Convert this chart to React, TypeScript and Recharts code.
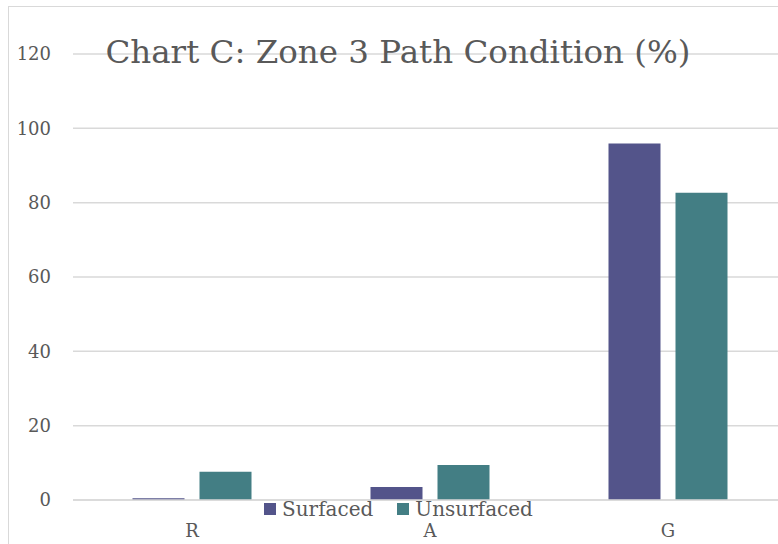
import React from "react";
import { BarChart, Bar, XAxis, YAxis, CartesianGrid } from "recharts";

const categories = ["R", "A", "G"];
const surfaced = [0.5, 3.5, 95.9];
const unsurfaced = [7.6, 9.4, 82.7];
const yTicks = [0, 20, 40, 60, 80, 100, 120];

const data = categories.map((c, i) => ({
    name: c,
    Surfaced: surfaced[i],
    Unsurfaced: unsurfaced[i],
}));

const font = "'DejaVu Serif', 'Liberation Serif', serif";
const textColor = "#595959";
const colors = { Surfaced: "#53548A", Unsurfaced: "#437E84" };

// legend sits over the axis labels like in the original, so it is drawn outside the chart layout
const LegendBox = () => (
    <div style={{ position: "absolute", top: 490, left: 255, display: "flex", fontFamily: font, fontSize: 20, color: textColor, lineHeight: "24px" }}>
        {(["Surfaced", "Unsurfaced"] as const).map((k) => (
            <div key={k} style={{ display: "flex", alignItems: "center", marginRight: 24 }}>
                <span style={{ width: 12, height: 12, background: colors[k], display: "inline-block", marginRight: 6 }} />
                {k}
            </div>
        ))}
    </div>
);

const App = () => {
    return (
        <div style={{ position: "absolute", left: 8, top: 6, width: 800, height: 560, border: "1px solid #d9d9d9", background: "#fff" }}>
            <BarChart
                width={800}
                height={560}
                data={data}
                margin={{ top: 47, right: 22, left: 0, bottom: 27 }}
                barCategoryGap="25%"
                barGap={15}
            >
                <CartesianGrid vertical={false} stroke="#d9d9d9" strokeWidth={1.5} />
                <XAxis
                    dataKey="name"
                    height={40}
                    axisLine={{ stroke: "#d9d9d9", strokeWidth: 1.5 }}
                    tickLine={false}
                    tickSize={0}
                    tickMargin={24}
                    tick={{ fill: textColor, fontFamily: font, fontSize: 18 }}
                />
                <YAxis
                    width={64}
                    domain={[0, 120]}
                    ticks={yTicks}
                    axisLine={false}
                    tickLine={false}
                    tickSize={0}
                    tickMargin={22}
                    tick={{ fill: textColor, fontFamily: font, fontSize: 18 }}
                />
                <Bar dataKey="Surfaced" fill={colors.Surfaced} isAnimationActive={false} />
                <Bar dataKey="Unsurfaced" fill={colors.Unsurfaced} isAnimationActive={false} />
            </BarChart>
            <LegendBox />
            <div
                style={{
                    position: "absolute",
                    top: 26,
                    left: 0,
                    width: 778,
                    textAlign: "center",
                    fontFamily: font,
                    fontSize: 32.5,
                    color: textColor,
                    pointerEvents: "none",
                }}
            >
                Chart C: Zone 3 Path Condition (%)
            </div>
        </div>
    );
};

export default App;
